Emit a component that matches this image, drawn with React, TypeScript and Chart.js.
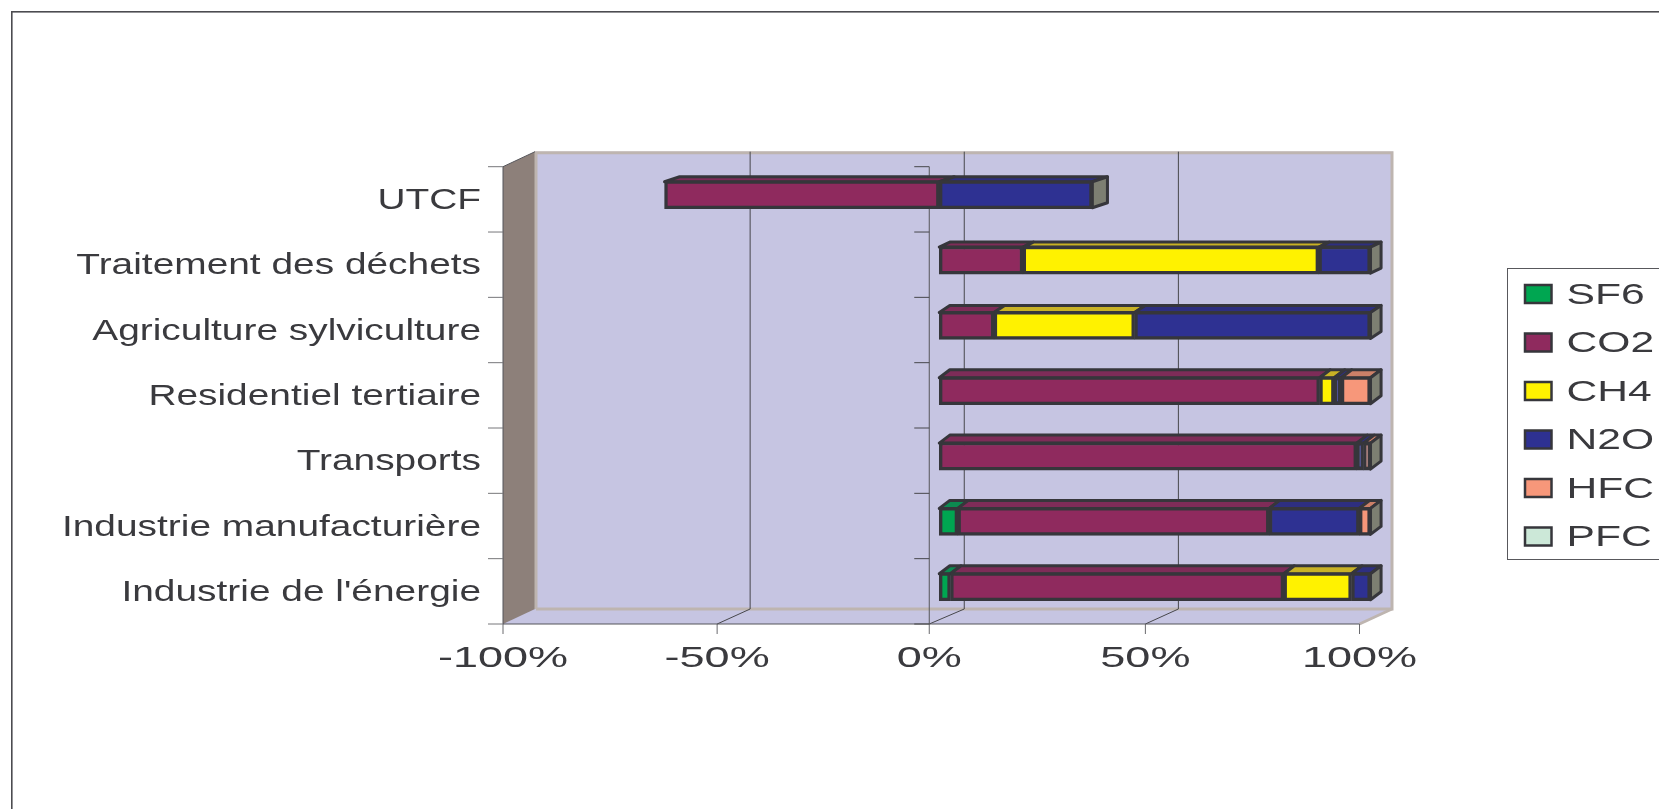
import React, { useEffect, useRef } from "react";
import { Chart, registerables } from "chart.js";

Chart.register(...registerables);

const categories = [
  "UTCF",
  "Traitement des déchets",
  "Agriculture sylviculture",
  "Residentiel tertiaire",
  "Transports",
  "Industrie manufacturière",
  "Industrie de l'énergie",
];
const sf6 = [null, null, null, null, null, 4.3, 2.6];
const co2 = [-63.7, 19.4, 12.7, 88.2, 96.8, 72.2, 77.3];
const ch4 = [null, 68.6, 32.6, 3.4, null, null, 15.7];
const n2o = [35.5, 12, 54.7, 1.6, 1.6, 20.9, 4.4];
const hfc = [null, null, null, 6.8, 1.6, 2.6, null];
const pfc = [null, null, null, null, null, null, null];
const tickValues = [-100, -50, 0, 50, 100];

const seriesNames = ["SF6", "CO2", "CH4", "N2O", "HFC", "PFC"];
const seriesValues = [sf6, co2, ch4, n2o, hfc, pfc];
const frontColors = ["#00A651", "#8F2A5E", "#FFF200", "#2E3192", "#F7977A", "#CCE8D8"];
const topColors = ["#0C8A50", "#7E2C58", "#C9B225", "#2E2F80", "#CC8068", "#AAC4B6"];
const barDepthY = [5, 5, 7, 8, 8, 8, 8];
const barDepthX = [15, 10.5, 10.5, 10.5, 10.5, 10.5, 10.5];

const INK = "#3A3A3E";
const EDGE = "#36363B";
const WALL = "#C6C5E2";
const TRIM = "#BEB5B0";
const SIDE = "#8D807A";
const FACE_END = "#7D7F72";
const FONT = '"Liberation Sans", Arial, sans-serif';

function stretchedText(ctx: any, text: string, x: number, y: number, sx: number, align: string, px: number) {
  ctx.save();
  ctx.font = `${px}px ${FONT}`;
  ctx.fillStyle = INK;
  ctx.textAlign = align;
  ctx.textBaseline = "alphabetic";
  ctx.translate(x, y);
  ctx.scale(sx, 1);
  ctx.fillText(text, 0, 0);
  ctx.restore();
}

function line(ctx: any, x0: number, y0: number, x1: number, y1: number) {
  ctx.beginPath();
  ctx.moveTo(x0, y0);
  ctx.lineTo(x1, y1);
  ctx.stroke();
}

function poly(ctx: any, pts: number[][], fill: string, stroke?: string, lw = 2) {
  ctx.beginPath();
  pts.forEach((p, i) => (i ? ctx.lineTo(p[0], p[1]) : ctx.moveTo(p[0], p[1])));
  ctx.closePath();
  ctx.fillStyle = fill;
  ctx.fill();
  if (stroke) {
    ctx.strokeStyle = stroke;
    ctx.lineWidth = lw;
    ctx.lineJoin = "round";
    ctx.stroke();
  }
}

const scene = {
  id: "scene",
  beforeDatasetsDraw(chart: any) {
    const { ctx, chartArea: a, scales } = chart;
    const sx = scales.x;
    const depthX = 32;
    const depthY = 15;
    const backR = 1393;
    ctx.save();
    // frame of the picture
    ctx.strokeStyle = "#4C4C50";
    ctx.lineWidth = 1.6;
    ctx.strokeRect(11.8, 11.8, 1800, 1000);
    // back wall and floor
    poly(ctx, [[a.left + depthX, a.top - depthY], [backR, a.top - depthY], [backR, a.bottom - depthY], [a.right, a.bottom], [a.left, a.bottom]], WALL);
    poly(ctx, [[a.left, a.top], [a.left + depthX, a.top - depthY], [a.left + depthX, a.bottom - depthY], [a.left, a.bottom]], SIDE);
    ctx.strokeStyle = TRIM;
    ctx.lineWidth = 3;
    ctx.beginPath();
    ctx.moveTo(a.left + depthX + 1, a.bottom - depthY);
    ctx.lineTo(a.left + depthX + 1, a.top - depthY + 1);
    ctx.lineTo(backR - 1, a.top - depthY + 1);
    ctx.lineTo(backR - 1, a.bottom - depthY);
    ctx.lineTo(a.left + depthX + 1, a.bottom - depthY);
    ctx.stroke();
    line(ctx, backR - 1, a.bottom - depthY, a.right, a.bottom);
    // value gridlines on back wall and floor
    ctx.strokeStyle = "#47474B";
    ctx.lineWidth = 1;
    const zero = sx.getPixelForValue(0) - 2;
    tickValues.forEach((v) => {
      const px = v === 0 ? zero : sx.getPixelForValue(v);
      const back = sx.getPixelForValue(v) + 33;
      if (v !== -100 && v !== 100) {
        line(ctx, back, a.top - depthY, back, a.bottom - depthY);
        line(ctx, back, a.bottom - depthY, px, a.bottom);
      }
      ctx.strokeStyle = "#6A6A6E";
      line(ctx, px, a.bottom, px, a.bottom + 10);
      ctx.strokeStyle = "#47474B";
    });
    // axis lines
    ctx.strokeStyle = "#55555A";
    line(ctx, a.left, a.top, a.left, a.bottom);
    line(ctx, a.left, a.top, a.left + depthX, a.top - depthY);
    line(ctx, a.left, a.bottom, a.right, a.bottom);
    line(ctx, zero, a.top, zero, a.bottom);
    const step = (a.bottom - a.top) / categories.length;
    for (let i = 0; i <= categories.length; i++) {
      const y = a.top + i * step;
      ctx.strokeStyle = "#77777A";
      line(ctx, a.left - 15, y, a.left, y);
      ctx.strokeStyle = "#47474B";
      line(ctx, zero - 15, y, zero, y);
    }
    ctx.restore();

    // the plane of the bars sits inside the depth of the box
    const barZero = sx.getPixelForValue(0);
    ctx.save();
    ctx.translate(barZero + 8, -4.6);
    ctx.scale(1.007, 1);
    ctx.translate(-barZero, 0);
    chart.data.datasets.forEach((_: any, di: number) => {
      const meta = chart.getDatasetMeta(di);
      meta.data.forEach((el: any, i: number) => {
        if (seriesValues[di][i] == null) return;
        const p = el.getProps(["x", "y", "base", "height"], true);
        const x0 = Math.min(p.x, p.base);
        const x1 = Math.max(p.x, p.base);
        const top = p.y - p.height / 2 + 1;
        const dx = barDepthX[i];
        const dy = barDepthY[i];
        poly(ctx, [[x0, top], [x0 + dx, top - dy], [x1 + dx, top - dy], [x1, top]], topColors[di], EDGE, 3);
      });
    });
    categories.forEach((_, i) => {
      let end = -Infinity;
      let h = 0;
      let cy = 0;
      chart.data.datasets.forEach((__: any, di: number) => {
        if (seriesValues[di][i] == null) return;
        const p = chart.getDatasetMeta(di).data[i].getProps(["x", "y", "height"], true);
        if (p.x > end) {
          end = p.x;
          h = p.height;
          cy = p.y;
        }
      });
      const dx = barDepthX[i];
      const dy = barDepthY[i];
      const t = cy - h / 2 + 1;
      const b = cy + h / 2 - 1;
      poly(ctx, [[end, t], [end + dx, t - dy], [end + dx, b - dy], [end, b]], FACE_END, EDGE, 3);
    });
  },
  afterDatasetsDraw(chart: any) {
    chart.ctx.restore();
  },
  afterDraw(chart: any) {
    const { ctx, scales } = chart;
    const sx = scales.x;
    const sy = scales.y;
    sy.ticks.forEach((t: any, i: number) => {
      stretchedText(ctx, sy.getLabelForValue(t.value), 481, sy.getPixelForTick(i) + 9.5, 1.34, "right", 29);
    });
    sx.ticks.forEach((t: any) => {
      const px = sx.getPixelForValue(t.value) - (t.value === 0 ? 2 : 0);
      stretchedText(ctx, `${t.value}%`, px, 667, 1.5, "center", 30);
    });
    // legend
    ctx.save();
    ctx.strokeStyle = "#58585C";
    ctx.lineWidth = 1;
    ctx.strokeRect(1507.5, 268.5, 300, 291);
    chart.data.datasets.forEach((d: any, i: number) => {
      const y = 285 + i * 48.5;
      ctx.fillStyle = frontColors[i];
      ctx.fillRect(1525, y, 26.5, 18);
      ctx.strokeStyle = EDGE;
      ctx.lineWidth = 2.5;
      ctx.strokeRect(1525, y, 26.5, 18);
      stretchedText(ctx, d.label, 1566.5, y + 18.5, 1.42, "left", 30);
    });
    ctx.restore();
  },
};

export default function App() {
  const ref = useRef<HTMLCanvasElement>(null);
  useEffect(() => {
    const chart = new Chart(ref.current as HTMLCanvasElement, {
      type: "bar",
      plugins: [scene],
      data: {
        labels: categories,
        datasets: seriesNames.map((label, i) => ({
          label,
          data: seriesValues[i],
          backgroundColor: frontColors[i],
          borderColor: EDGE,
          borderWidth: 3.4,
          borderSkipped: false,
          barThickness: 28,
          clip: false,
        })),
      } as any,
      options: {
        indexAxis: "y",
        animation: false,
        responsive: false,
        devicePixelRatio: 1,
        layout: { padding: { left: 503, right: 1659 - 1359.5, top: 166.7, bottom: 809 - 624 } },
        plugins: { legend: { display: false }, tooltip: { enabled: false }, title: { display: false } },
        scales: {
          x: {
            type: "linear",
            display: false,
            stacked: true,
            min: -100,
            max: 100,
            afterBuildTicks: (s: any) => {
              s.ticks = tickValues.map((value) => ({ value }));
            },
          },
          y: {
            type: "category",
            display: false,
            stacked: true,
          },
        },
      } as any,
    });
    return () => chart.destroy();
  }, []);
  return (
    <canvas
      ref={ref}
      width={1659}
      height={809}
      style={{ position: "fixed", left: 0, top: 0, width: 1659, height: 809, display: "block" }}
    />
  );
}
